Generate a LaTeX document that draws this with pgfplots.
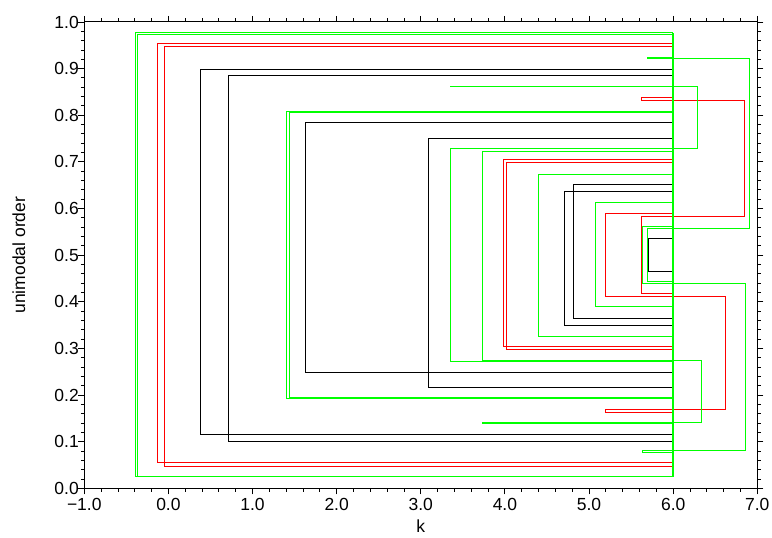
\documentclass[border=0pt]{standalone}
\usepackage{fontspec}
\setmainfont{Liberation Sans}
\usepackage{pgfplots}
\pgfplotsset{compat=1.18}
\definecolor{pgreen}{RGB}{0,255,0}
\definecolor{pred}{RGB}{255,0,0}
\begin{document}
\begin{tikzpicture}
\begin{axis}[
  scale only axis, width=673pt, height=466.3pt,
  xmin=-1, xmax=7, ymin=0, ymax=1,
  xtick={-1,0,1,2,3,4,5,6,7},
  xticklabels={−1.0,0.0,1.0,2.0,3.0,4.0,5.0,6.0,7.0},
  ytick={0,0.1,0.2,0.3,0.4,0.5,0.6,0.7,0.8,0.9,1.0},
  yticklabels={0.0,0.1,0.2,0.3,0.4,0.5,0.6,0.7,0.8,0.9,1.0},
  minor x tick num=4, minor y tick num=4,
  tick align=outside,
  major tick length=6pt, minor tick length=3.5pt,
  axis line style={line width=1pt},
  every tick/.style={black, line width=0.9pt},
  tick label style={font=\fontsize{17.5}{21}\selectfont},
  yticklabel style={xshift=4pt},
  label style={font=\fontsize{17.5}{21}\selectfont},
  xlabel={k}, ylabel={unimodal order},
  xlabel style={at={(axis description cs:0.5,-0.0952)}, anchor=base},
  ylabel style={at={(axis description cs:-0.0973,0.5)}, anchor=center},
  every axis plot/.append style={line width=1pt},
]
% black brackets
\addplot[black] coordinates {(6,0.899)(0.384,0.899)(0.384,0.1158)(6,0.1158)};
\addplot[black] coordinates {(6,0.885)(0.720,0.885)(0.720,0.1014)(6,0.1014)};
\addplot[black] coordinates {(6,0.785)(1.630,0.785)(1.630,0.2494)(6,0.2494)};
\addplot[black] coordinates {(6,0.7506)(3.095,0.7506)(3.095,0.2158)(6,0.2158)};
\addplot[black] coordinates {(6,0.652)(4.819,0.652)(4.819,0.3645)(6,0.3645)};
\addplot[black] coordinates {(6,0.636)(4.712,0.636)(4.712,0.3495)(6,0.3495)};
\addplot[black] coordinates {(6,0.536)(5.706,0.536)(5.706,0.466)(6,0.466)};
% red brackets
\addplot[pred] coordinates {(6,0.953)(-0.132,0.953)(-0.132,0.0549)(6,0.0549)};
\addplot[pred] coordinates {(6,0.947)(-0.049,0.947)(-0.049,0.0478)(6,0.0478)};
\addplot[pred] coordinates {(6,0.7047)(3.987,0.7047)(3.987,0.3037)(6,0.3037)};
\addplot[pred] coordinates {(6,0.698)(4.018,0.698)(4.018,0.2966)(6,0.2966)};
\addplot[pred] coordinates {(6,0.8377)(5.623,0.8377)(5.623,0.831)(6.853,0.831)(6.853,0.5825)(5.623,0.5825)(5.623,0.418)(6,0.418)};
\addplot[pred] coordinates {(6,0.590)(5.19,0.590)(5.19,0.411)(6.617,0.411)(6.617,0.170)(5.19,0.170)(5.19,0.1636)(6,0.1636)};
% green brackets
\addplot[pgreen] coordinates {(6,0.977)(-0.397,0.977)(-0.397,0.0249)(6,0.0249)};
\addplot[pgreen] coordinates {(6,0.974)(-0.370,0.974)(-0.370,0.026)(6,0.026)};
\addplot[pgreen] coordinates {(6,0.809)(1.407,0.809)(1.407,0.192)(6,0.192)};
\addplot[pgreen] coordinates {(6,0.806)(1.435,0.806)(1.435,0.1945)(6,0.1945)};
\addplot[pgreen] coordinates {(6,0.8625)(3.357,0.8625)(3.357,0.861)(6.289,0.861)(6.289,0.729)(3.349,0.729)(3.349,0.2716)(6,0.2716)};
\addplot[pgreen] coordinates {(6,0.7227)(3.733,0.7227)(3.733,0.2751)(6.333,0.2751)(6.333,0.1415)(3.733,0.1415)(3.733,0.139)(6,0.139)};
\addplot[pgreen] coordinates {(6,0.674)(4.395,0.674)(4.395,0.326)(6,0.326)};
\addplot[pgreen] coordinates {(6,0.613)(5.081,0.613)(5.081,0.389)(6,0.389)};
\addplot[pgreen] coordinates {(6,0.561)(5.64,0.561)(5.64,0.4396)(6.864,0.4396)(6.864,0.0806)(5.64,0.0806)(5.64,0.0778)(6,0.0778)};
\addplot[pgreen] coordinates {(6,0.9235)(5.69,0.9235)(5.69,0.9215)(6.904,0.9215)(6.904,0.5576)(5.70,0.5576)(5.70,0.444)(6,0.444)};
% main vertical
\addplot[pgreen, line width=2pt] coordinates {(6,0.0249)(6,0.977)};
\end{axis}
\pgfresetboundingbox
\path ([shift={(-84.3pt,-48.7pt)}]current axis.south west) rectangle ([shift={(14.7pt,22pt)}]current axis.north east);
\end{tikzpicture}
\end{document}
